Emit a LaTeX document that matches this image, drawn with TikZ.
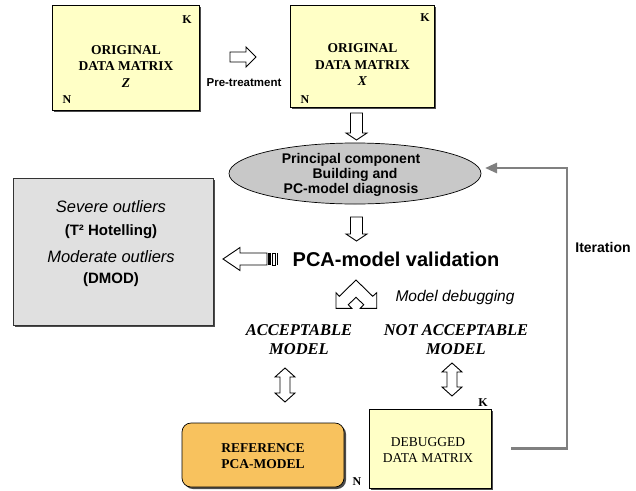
\documentclass[tikz,border=0pt]{standalone}
\usepackage{fontspec}
\setmainfont{Liberation Serif}
\setsansfont{Liberation Sans}
\usetikzlibrary{shapes.geometric,shadows,arrows.meta,calc}
\definecolor{yellowbox}{HTML}{FFFFC6}
\definecolor{graybox}{HTML}{E0E0E0}
\definecolor{ellgray}{HTML}{C8C8C8}
\definecolor{orangebox}{HTML}{F8C25E}
\definecolor{itergray}{HTML}{808080}
\tikzset{
  blockline/.style={draw=black, line width=0.9pt, fill=white, line join=miter},
  pics/blockarrow/.style n args={4}{code={
    \draw[blockline] (0,-#2) -- ({#1-#4},-#2) -- ({#1-#4},-#3) -- (#1,0) -- ({#1-#4},#3) -- ({#1-#4},#2) -- (0,#2) -- cycle;}},
  pics/dblarrow/.style n args={4}{code={
    \draw[blockline] (0,0) -- (#4,-#3) -- (#4,-#2) -- ({#1-#4},-#2) -- ({#1-#4},-#3) -- (#1,0) -- ({#1-#4},#3) -- ({#1-#4},#2) -- (#4,#2) -- (#4,#3) -- cycle;}},
  shad/.style={drop shadow={shadow xshift=2pt, shadow yshift=-2pt, fill=black!70, opacity=1}},
  matbox/.style={draw=black, line width=0.6pt, fill=yellowbox, inner sep=0pt, shad},
  mattext/.style={font=\fontsize{13.5}{16.5}\selectfont\bfseries, align=center, inner sep=0pt},
  dimlbl/.style={font=\fontsize{12}{12}\selectfont\bfseries, inner sep=0pt},
  sanslbl/.style={font=\sffamily\bfseries, inner sep=0pt},
  outit/.style={font=\sffamily\itshape\fontsize{16.5}{17}\selectfont, inner sep=0pt},
  outbf/.style={font=\sffamily\bfseries\fontsize{15}{16}\selectfont, inner sep=0pt},
}
\begin{document}
\begin{tikzpicture}[x=1pt,y=-1pt]
\useasboundingbox (0,0) rectangle (636,490);

% original data matrix Z
\node[matbox, minimum width=147pt, minimum height=105pt] (Z) at (125.5,57.5) {};
\node[mattext] (Zt) at (126,66.5) {ORIGINAL\\DATA MATRIX\\\textit{Z}};
\node[dimlbl] (ZK) at (187,20) {K};
\node[dimlbl] (ZN) at (67,100) {N};

% pre-treatment arrow
\pic at (230,57) {blockarrow={26}{5}{10}{10}};
\node[sanslbl, font=\sffamily\bfseries\fontsize{11.5}{12}\selectfont] (pre) at (244,83) {Pre-treatment};

% original data matrix X
\node[matbox, minimum width=144pt, minimum height=102pt] (X) at (362,56) {};
\node[mattext] (Xt) at (362.5,65) {ORIGINAL\\DATA MATRIX\\\textit{X}};
\node[dimlbl] (XK) at (425,18) {K};
\node[dimlbl] (XN) at (305,100) {N};

% down arrow 1
\pic[rotate=-90] at (356.5,113) {blockarrow={27}{6}{10.5}{7}};

% ellipse
\node[ellipse, draw=black, line width=0.7pt, fill=ellgray, minimum width=252pt, minimum height=61pt, inner sep=0pt] (E) at (355,173.5) {};
\node[sanslbl, align=center, font=\sffamily\bfseries\fontsize{14}{15}\selectfont] (Et) at (351,175) {Principal component\\\hspace{8pt}Building and\\PC-model diagnosis\hspace{12pt}};

% down arrow 2
\pic[rotate=-90] at (356.5,217) {blockarrow={24}{6}{10.5}{7}};

% validation
\node[sanslbl, font=\sffamily\bfseries\fontsize{20}{22}\selectfont] (V) at (396,259) {PCA-model validation};

% outlier box
\node[draw=black!80, line width=0.6pt, fill=graybox, minimum width=200pt, minimum height=147pt, inner sep=0pt, shad] (G) at (113,251.5) {};
\node[outit] (G1) at (111,207) {Severe outliers};
\node[outbf] (G2) at (111,232) {(T² Hotelling)};
\node[outit] (G3) at (111,257) {Moderate outliers};
\node[outbf] (G4) at (111,280) {(DMOD)};

% left striped arrow
\pic[rotate=180] at (267,259) {blockarrow={44}{6}{11.5}{17}};
\fill[black] (268,253) rectangle (271,265);
\draw[line width=0.8pt] (272.5,253) rectangle (275.5,265);
\draw[line width=1.2pt] (277.5,253) -- (277.5,265);

% split arrow
\draw[blockline] (336,308.3) -- (336,292.7) -- (339.3,296.3) -- (356,280) -- (372.7,296.3) -- (376.7,292.7) -- (376.7,308.3) -- (360.3,308.3) -- (363.7,304.7) -- (356,297.3) -- (348.3,304.7) -- (351.7,308.3) -- cycle;
\node[font=\sffamily\itshape\fontsize{15.5}{16}\selectfont, inner sep=0pt] (MD) at (455,297) {Model debugging};

% acceptable / not acceptable
\node[font=\bfseries\itshape\fontsize{16.5}{19}\selectfont, align=center, inner sep=0pt] (AC) at (299,340) {ACCEPTABLE\\MODEL};
\node[font=\bfseries\itshape\fontsize{16.5}{19}\selectfont, align=center, inner sep=0pt] (NA) at (456,340) {NOT ACCEPTABLE\\MODEL};

% up-down arrows
\pic[rotate=-90] at (285,368) {dblarrow={34}{5}{10}{9}};
\pic[rotate=-90] at (452,363) {dblarrow={33}{5}{10}{9}};

% reference model
\node[draw=black, line width=0.7pt, fill=orangebox, rounded corners=9pt, minimum width=162pt, minimum height=64pt, inner sep=0pt, shad] (R) at (263,455) {};
\node[mattext] (Rt) at (263,456) {REFERENCE\\PCA-MODEL};
\node[dimlbl] (RN) at (357,482) {N};

% debugged matrix
\node[matbox, minimum width=122pt, minimum height=79pt] (D) at (430,448.5) {};
\node[mattext, font=\fontsize{13.5}{15.5}\selectfont] (Dt) at (428,450) {DEBUGGED\\DATA MATRIX};
\node[dimlbl] (DK) at (483,403) {K};

% iteration
\coordinate (itstart) at ([xshift=20pt]D.east);
\coordinate (itturn) at (567,168);
\coordinate (itend) at (485,168);
\draw[itergray, line width=2.7pt, -{Triangle[length=12pt,width=10pt]}] (itstart) -| (itturn) -- (itend);
\node[sanslbl, font=\sffamily\bfseries\fontsize{14}{15}\selectfont] (It) at (603,247) {Iteration};
\end{tikzpicture}
\end{document}
